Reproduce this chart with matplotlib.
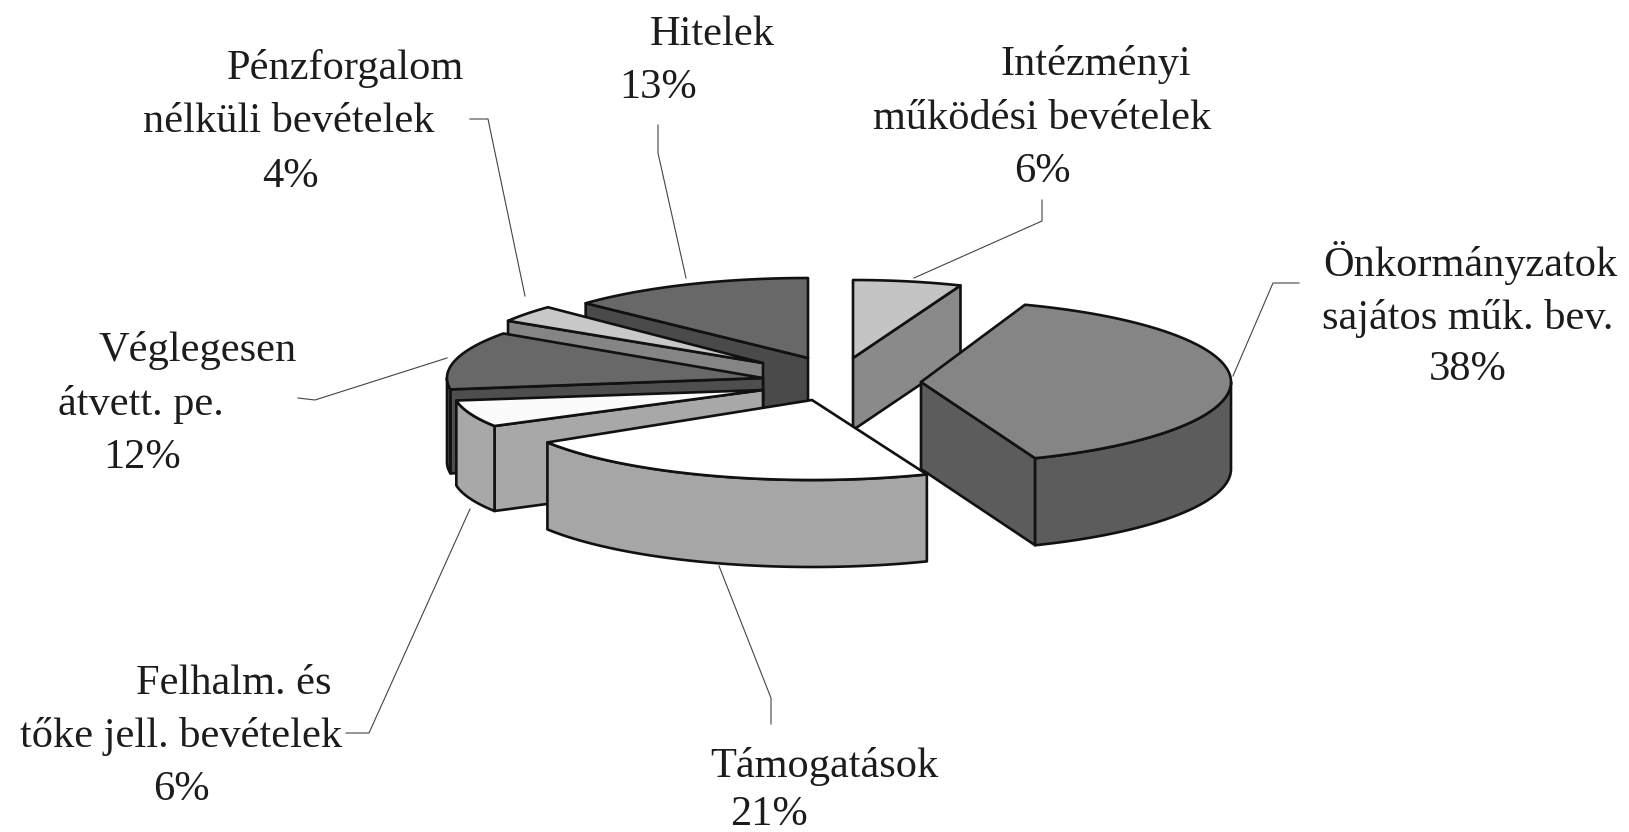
import numpy as np
import matplotlib
matplotlib.use('Agg')
import matplotlib.pyplot as plt
from matplotlib.patches import Polygon

# Slices clockwise from 12 o'clock
nevek = ['Intézményi', 'Önkormányzatok', 'Támogatások', 'Felhalm', 'Végleg', 'Pénzforgalom', 'Hitelek']
ertekek = [6, 38, 21, 6, 12, 4, 13]

# Picture geometry of every exploded slice, the print has a slightly warped perspective
csucs_x = [853, 921, 812, 763, 763, 763, 808]
csucs_y = [358, 382, 400, 390, 378, 363, 358]
rx = [292, 310, 312, 310, 316, 300, 305]
ry = [78, 82, 80, 72, 78, 80, 80]
magassag = [72, 87, 87, 85, 84, 70, 70]
szog_kezd = [0, -2, 0, 6, 6, 3, 0]
szog_veg = [0, 0, 4, 6, 6, 1, 0]

felso_szin = ['#c4c4c4', '#858585', '#ffffff', '#fbfbfb', '#686868', '#c8c8c8', '#686868']
fal_szin = ['#8a8a8a', '#5c5c5c', '#a6a6a6', '#a8a8a8', '#4e4e4e', '#858585', '#4a4a4a']
rajz_sorrend = [6, 5, 4, 0, 3, 1, 2]

# Labels, one entry per text line
cimke_szoveg = ['Hitelek', '13%', 'Pénzforgalom', 'nélküli bevételek', '4%',
                'Intézményi', 'működési bevételek', '6%',
                'Önkormányzatok', 'sajátos műk. bev.', '38%',
                'Véglegesen', 'átvett. pe.', '12%',
                'Felhalm. és', 'tőke jell. bevételek', '6%',
                'Támogatások', '21%']
cimke_x = [712, 658, 345, 289, 290, 1096, 1042, 1042, 1470, 1468, 1468, 198, 141, 142, 234, 181, 181, 824, 769]
cimke_y = [35, 88, 68, 122, 177, 65, 119, 172, 263, 318, 370, 350, 404, 458, 684, 737, 790, 767, 815]

vezeto_vonalak = [
    [(470, 119), (488, 119), (525, 296)],
    [(658, 125), (658, 153), (686, 278)],
    [(1042, 200), (1042, 221), (914, 278)],
    [(1299, 283), (1273, 283), (1233, 376)],
    [(298, 398), (315, 400), (447, 358)],
    [(346, 733), (369, 733), (470, 509)],
    [(771, 724), (771, 698), (719, 566)],
]


def pont(i, szog):
    t = np.radians(szog)
    return csucs_x[i] + rx[i] * np.sin(t), csucs_y[i] - ry[i] * np.cos(t)


def iv(i, a, b):
    x, y = pont(i, np.linspace(a, b, 80))
    return np.column_stack([x, y])


def lap(ax, pontok, szin, z):
    ax.add_patch(Polygon(pontok, closed=True, facecolor=szin, edgecolor='#111111',
                         linewidth=1.9, joinstyle='round', zorder=z))


fig = plt.figure(figsize=(16.29, 8.32), dpi=100)
ax = fig.add_axes([0, 0, 1, 1])
ax.set_xlim(0, 1629)
ax.set_ylim(832, 0)
ax.axis('off')

hatarok = np.cumsum([0] + ertekek) / sum(ertekek) * 360

z = 2
for i in rajz_sorrend:
    a = hatarok[i] + szog_kezd[i]
    b = hatarok[i + 1] + szog_veg[i]
    h = magassag[i]
    csucs = np.array([csucs_x[i], csucs_y[i]])
    le = np.array([0, h])

    # side walls, only those facing the viewer
    if -np.sin(np.radians(a)) > 0.01:
        p = np.array(pont(i, a))
        lap(ax, [csucs, p, p + le, csucs + le], fal_szin[i], z)
        z += 1
    if np.sin(np.radians(b)) > 0.01:
        p = np.array(pont(i, b))
        lap(ax, [csucs, p, p + le, csucs + le], fal_szin[i], z)
        z += 1

    # outer wall on the front half
    e1, e2 = max(a, 90), min(b, 270)
    if e2 > e1:
        felul = iv(i, e1, e2)
        lap(ax, np.vstack([felul, (felul + le)[::-1]]), fal_szin[i], z)
        z += 1

    # top face
    lap(ax, np.vstack([csucs, iv(i, a, b)]), felso_szin[i], z)
    z += 1

for vonal in vezeto_vonalak:
    xs, ys = zip(*vonal)
    ax.plot(xs, ys, color='#444444', linewidth=0.8, zorder=1)

for szoveg, x, y in zip(cimke_szoveg, cimke_x, cimke_y):
    ax.text(x, y, szoveg, family='Liberation Serif', fontsize=30.5, color='#1c1c1c',
            ha='center', va='center')

fig.savefig('out.png', dpi=100, facecolor='white')
